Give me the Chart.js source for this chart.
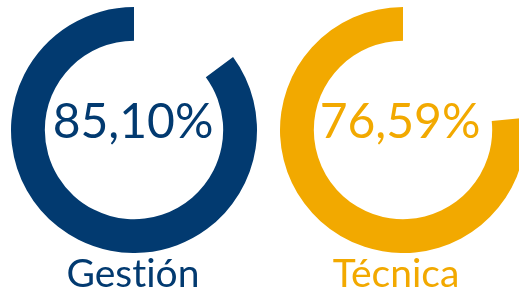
<!DOCTYPE html>
<html>
<head>
<meta charset="utf-8">
<script src="https://cdn.jsdelivr.net/npm/chart.js@4"></script>
<style>
  html, body { margin: 0; padding: 0; background: #fff; }
  body { width: 519px; height: 293px; overflow: hidden; position: relative; font-family: Lato, "Noto Sans", sans-serif; font-variant-ligatures: none; }
  .ring { position: absolute; top: 7px; width: 246px; height: 246px; }
  .ring canvas { display: block; }
  .value { position: absolute; top: 94px; width: 246px; text-align: center; font-size: 48px; line-height: 52px; font-weight: 400; }
  .name { position: absolute; top: 251px; width: 246px; text-align: center; font-size: 39px; line-height: 43px; font-weight: 400; }
</style>
</head>
<body>
<div class="ring" style="left:11px"><canvas id="chart-gestion" width="246" height="246"></canvas></div>
<div class="ring" style="left:280px"><canvas id="chart-tecnica" width="246" height="246"></canvas></div>
<div class="value" id="val-0" style="left:10px"></div>
<div class="value" id="val-1" style="left:277px"></div>
<div class="name" id="name-0" style="left:10px"></div>
<div class="name" id="name-1" style="left:273px"></div>
<script>
const navy = '#023a70';
const orange = '#f2a900';

const categories = ['Gestión', 'Técnica'];
const percents = [85.10, 76.59];
const colors = [navy, orange];
const canvasIds = ['chart-gestion', 'chart-tecnica'];

function fmt(v) { return v.toFixed(2).replace('.', ',') + '%'; }

categories.forEach(function(name, i) {
  const v = document.getElementById('val-' + i);
  v.textContent = fmt(percents[i]);
  v.style.color = colors[i];
  const n = document.getElementById('name-' + i);
  n.textContent = name;
  n.style.color = colors[i];

  // gap first so the filled arc ends at 12 o'clock going round the left side
  new Chart(document.getElementById(canvasIds[i]), {
    type: 'doughnut',
    data: {
      labels: ['', name],
      datasets: [{
        data: [100 - percents[i], percents[i]],
        backgroundColor: ['rgba(0,0,0,0)', colors[i]],
        borderWidth: 0
      }]
    },
    options: {
      responsive: false,
      animation: false,
      cutout: '72.5%',
      layout: { padding: 0 },
      plugins: {
        legend: { display: false },
        tooltip: { enabled: false }
      }
    }
  });
});
</script>
</body>
</html>
